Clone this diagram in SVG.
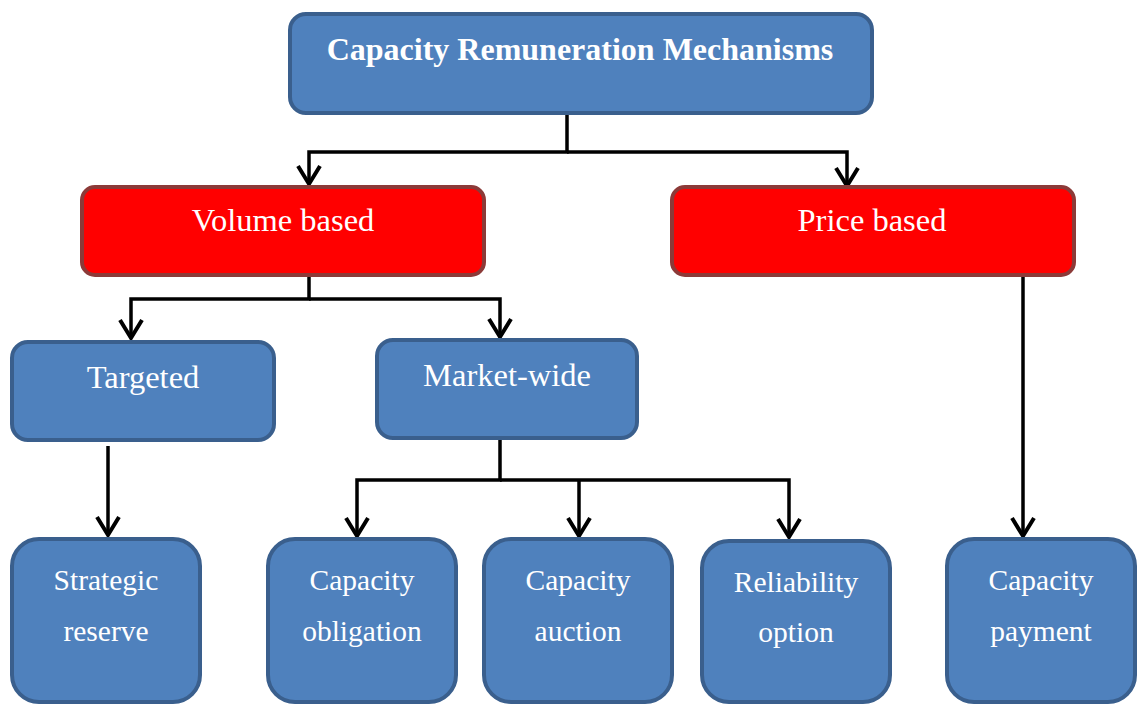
<svg xmlns="http://www.w3.org/2000/svg" width="1140" height="705" viewBox="0 0 1140 705">
<style>
.blue{fill:#4f81bd;stroke:#3a5f8d;stroke-width:4}
.red{fill:#ff0000;stroke:#8c3a38;stroke-width:4}
.t{font-family:"Liberation Serif","Times New Roman",serif;fill:#ffffff;text-anchor:middle}
.big{font-size:32.5px}
.sm{font-size:29.5px}
.con{fill:none;stroke:#000;stroke-width:3.5;stroke-linejoin:miter}
</style>
<defs>
<marker id="arr" markerUnits="userSpaceOnUse" viewBox="-20 -20 40 40" markerWidth="40" markerHeight="40" refX="0" refY="0" orient="auto" overflow="visible">
<path d="M-18,-11 L0,0 L-18,11" fill="none" stroke="#000" stroke-width="4"/>
</marker>
</defs>
<g id="connectors">
<path class="con" d="M567,115 V152 H309 V184" marker-end="url(#arr)"/>
<path class="con" d="M567,152 H847 V186" marker-end="url(#arr)"/>
<path class="con" d="M309,277 V299 H131 V338" marker-end="url(#arr)"/>
<path class="con" d="M309,299 H500 V337" marker-end="url(#arr)"/>
<path class="con" d="M108,446 V535" marker-end="url(#arr)"/>
<path class="con" d="M500,440 V480 H357 V536" marker-end="url(#arr)"/>
<path class="con" d="M500,480 H789 V537" marker-end="url(#arr)"/>
<path class="con" d="M579,480 V536" marker-end="url(#arr)"/>
<path class="con" d="M1023,277 V536" marker-end="url(#arr)"/>
</g>
<g id="root">
<rect class="blue" x="290" y="14" width="582" height="99" rx="16"/>
<text class="t" x="580" y="60" font-size="32" font-weight="bold">Capacity Remuneration Mechanisms</text>
</g>
<g id="volume">
<rect class="red" x="82" y="187" width="402" height="88" rx="13"/>
<text class="t big" x="283" y="231">Volume based</text>
</g>
<g id="price">
<rect class="red" x="672" y="187" width="402" height="88" rx="13"/>
<text class="t big" x="872" y="231">Price based</text>
</g>
<g id="targeted">
<rect class="blue" x="12" y="342" width="262" height="98" rx="16"/>
<text class="t big" x="143" y="388">Targeted</text>
</g>
<g id="marketwide">
<rect class="blue" x="377" y="340" width="260" height="98" rx="16"/>
<text class="t big" x="507" y="386">Market-wide</text>
</g>
<g id="strategic">
<rect class="blue" x="12" y="539" width="188" height="163" rx="27"/>
<text class="t sm" x="106" y="590">Strategic</text>
<text class="t sm" x="106" y="641">reserve</text>
</g>
<g id="obligation">
<rect class="blue" x="268" y="539" width="188" height="163" rx="27"/>
<text class="t sm" x="362" y="590">Capacity</text>
<text class="t sm" x="362" y="641">obligation</text>
</g>
<g id="auction">
<rect class="blue" x="484" y="539" width="188" height="163" rx="27"/>
<text class="t sm" x="578" y="590">Capacity</text>
<text class="t sm" x="578" y="641">auction</text>
</g>
<g id="reliability">
<rect class="blue" x="702" y="541" width="188" height="161" rx="27"/>
<text class="t sm" x="796" y="592">Reliability</text>
<text class="t sm" x="796" y="642">option</text>
</g>
<g id="payment">
<rect class="blue" x="947" y="539" width="188" height="163" rx="27"/>
<text class="t sm" x="1041" y="590">Capacity</text>
<text class="t sm" x="1041" y="641">payment</text>
</g>
</svg>
